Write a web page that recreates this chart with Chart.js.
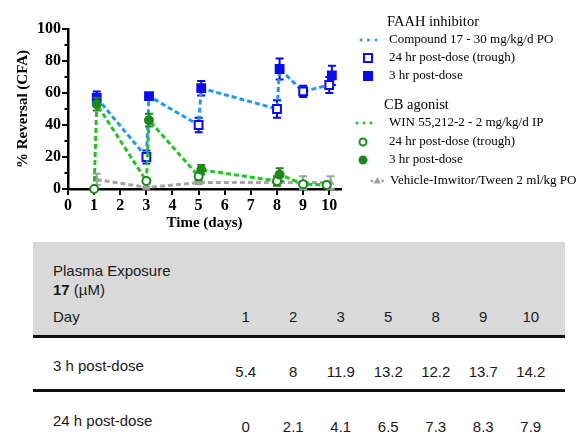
<!DOCTYPE html>
<html>
<head>
<meta charset="utf-8">
<script src="https://cdn.jsdelivr.net/npm/chart.js@4.4.0/dist/chart.umd.min.js"></script>
<style>
  html, body { margin: 0; padding: 0; background: #fff; }
  #wrap { position: relative; width: 582px; height: 433px; overflow: hidden; }
  #chart { position: absolute; left: 0; top: 0; }
  #table { position: absolute; left: 33px; top: 242px; width: 532px; height: 191px;
           font-family: "Liberation Sans", Arial, sans-serif; font-size: 15px; color: #1a1a1a; }
  #table .band { position: absolute; left: 0; top: 0; width: 532px; height: 93px; background: #d9d9d9; }
  #table .rule { position: absolute; left: 0; width: 532px; height: 3px; background: #111; }
  #table .cell { position: absolute; height: 18px; line-height: 18px; white-space: nowrap; }
</style>
</head>
<body>
<div id="wrap">
  <canvas id="chart" width="582" height="240"></canvas>
  <div id="table"></div>
</div>
<script>
// FAAH inhibitor (compound 17), trough and 3 h points in time order
const faahDays = [1.1, 3, 3.1, 5, 5.1, 8, 8.1, 9, 10, 10.1];
const faahReversal = [57, 20, 58, 40, 63, 50, 75, 61, 65, 71];
const faahSem = [4, 4, 1, 4.5, 4.5, 5.5, 6.5, 3.5, 5, 6];
const faahTrough = [false, true, false, true, false, true, false, true, true, false];

// CB agonist (WIN 55,212-2)
const winDays = [1, 1.1, 3, 3.1, 5, 5.1, 8, 8.1, 9, 9.9];
const winReversal = [0, 53, 5, 43, 8, 12, 5, 9, 3, 2.5];
const winSem = [0.5, 4, 1, 4, 2.5, 3, 3, 4, 1.5, 1];
const winTrough = [true, false, true, false, true, false, true, false, true, true];

// Vehicle
const vehDays = [1.1, 3, 5, 8, 9, 10.05];
const vehReversal = [6, 1, 4, 4, 4, 4];
const vehSem = [3.5, 0.5, 1, 1, 4, 4];

// plasma exposure table
const tableDays = [1, 2, 3, 5, 8, 9, 10];
const exposure3h = [5.4, 8, 11.9, 13.2, 12.2, 13.7, 14.2];
const exposure24h = [0, 2.1, 4.1, 6.5, 7.3, 8.3, 7.9];

const serif = '"Liberation Serif", "Times New Roman", serif';

function toPoints(xs, ys) {
  return xs.map((x, i) => ({ x: x, y: ys[i] }));
}

// error bars under each dataset's markers
const errorBars = {
  id: 'errorBars',
  beforeDatasetDraw(chart, args) {
    const ds = chart.data.datasets[args.index];
    if (!ds.sem) return;
    const ctx = chart.ctx;
    const xs = chart.scales.x, ys = chart.scales.y;
    ctx.save();
    ctx.strokeStyle = ds.barColor;
    ctx.lineWidth = 2;
    ds.data.forEach((p, i) => {
      const px = xs.getPixelForValue(p.x);
      const top = ys.getPixelForValue(p.y + ds.sem[i]);
      const bot = ys.getPixelForValue(Math.max(0, p.y - ds.sem[i]));
      ctx.beginPath();
      ctx.moveTo(px, top); ctx.lineTo(px, bot);
      ctx.moveTo(px - 4, top); ctx.lineTo(px + 4, top);
      ctx.moveTo(px - 4, bot); ctx.lineTo(px + 4, bot);
      ctx.stroke();
    });
    ctx.restore();
  }
};

// short minor ticks on the y axis
const minorTicks = {
  id: 'minorTicks',
  afterDraw(chart) {
    const ctx = chart.ctx;
    const ys = chart.scales.y;
    const left = chart.chartArea.left;
    ctx.save();
    ctx.strokeStyle = '#000';
    ctx.lineWidth = 2;
    [10, 30, 50, 70, 90].forEach(v => {
      const py = ys.getPixelForValue(v);
      ctx.beginPath();
      ctx.moveTo(left - 3.5, py); ctx.lineTo(left, py);
      ctx.stroke();
    });
    ctx.restore();
  }
};

// grouped legend on the right
const groupLegend = {
  id: 'groupLegend',
  afterDraw(chart) {
    const ctx = chart.ctx;
    ctx.save();
    ctx.textBaseline = 'middle';
    ctx.fillStyle = '#000';

    function dots(x0, y, color, n, gap) {
      ctx.fillStyle = color;
      for (let i = 0; i < n; i++) ctx.fillRect(x0 + i * gap - 1.3, y - 1.3, 2.6, 2.6);
      ctx.fillStyle = '#000';
    }
    function square(x, y, filled) {
      ctx.fillStyle = filled ? '#0a0af5' : '#fff';
      ctx.fillRect(x - 4, y - 4, 8, 8);
      ctx.strokeStyle = '#0a0af5';
      ctx.lineWidth = 2;
      ctx.strokeRect(x - 4, y - 4, 8, 8);
      ctx.fillStyle = '#000';
    }
    function circle(x, y, filled) {
      ctx.beginPath();
      ctx.arc(x, y, 3.5, 0, Math.PI * 2);
      ctx.fillStyle = filled ? '#1b8a1b' : '#fff';
      ctx.fill();
      ctx.strokeStyle = '#1b8a1b';
      ctx.lineWidth = 2;
      ctx.stroke();
      ctx.fillStyle = '#000';
    }

    ctx.font = '14.5px ' + serif;
    ctx.fillText('FAAH inhibitor', 387, 22);
    ctx.fillText('CB agonist', 384, 105);

    ctx.font = '13px ' + serif;
    dots(361, 40, '#1e9bf0', 3, 7.5);
    ctx.fillText('Compound 17 - 30 mg/kg/d PO', 389, 40);
    square(368, 58, false);
    ctx.fillText('24 hr post-dose (trough)', 389, 58);
    square(368, 76, true);
    ctx.fillText('3 hr post-dose', 389, 76);

    dots(357, 123, '#22c422', 3, 7);
    ctx.fillText('WIN 55,212-2 - 2 mg/kg/d IP', 389, 123);
    circle(363, 142, false);
    ctx.fillText('24 hr post-dose (trough)', 389, 142);
    circle(363, 160, true);
    ctx.fillText('3 hr post-dose', 389, 160);

    dots(372, 181, '#a6a6a6', 1, 0);
    dots(382.5, 181, '#a6a6a6', 1, 0);
    ctx.fillStyle = '#a0a0a0';
    ctx.beginPath();
    ctx.moveTo(377.3, 177); ctx.lineTo(381, 183.5); ctx.lineTo(373.6, 183.5);
    ctx.closePath(); ctx.fill();
    ctx.fillStyle = '#000';
    ctx.fillText('Vehicle-Imwitor/Tween 2 ml/kg PO', 390, 181);
    ctx.restore();
  }
};

const faahBlue = '#0a0af5';
const winGreen = '#1b8a1b';

const data = {
  datasets: [
    {
      label: 'Compound 17 - 30 mg/kg/d PO',
      data: toPoints(faahDays, faahReversal),
      sem: faahSem,
      barColor: faahBlue,
      borderColor: '#1e9bf0',
      borderWidth: 3,
      borderDash: [5, 3],
      pointStyle: 'rect',
      pointRadius: 5.5,
      pointBorderWidth: 2,
      pointBorderColor: faahBlue,
      pointBackgroundColor: faahTrough.map(t => t ? '#fff' : faahBlue),
      order: 1
    },
    {
      label: 'WIN 55,212-2 - 2 mg/kg/d IP',
      data: toPoints(winDays, winReversal),
      sem: winSem,
      barColor: winGreen,
      borderColor: '#22c422',
      borderWidth: 3,
      borderDash: [5, 3],
      pointStyle: 'circle',
      pointRadius: 4,
      pointBorderWidth: 2,
      pointBorderColor: winGreen,
      pointBackgroundColor: winTrough.map(t => t ? '#fff' : winGreen),
      order: 0
    },
    {
      label: 'Vehicle-Imwitor/Tween 2 ml/kg PO',
      data: toPoints(vehDays, vehReversal),
      sem: vehSem,
      barColor: '#a0a0a0',
      borderColor: '#a6a6a6',
      borderWidth: 3,
      borderDash: [5, 3],
      pointStyle: 'triangle',
      pointRadius: 4.5,
      pointBorderWidth: 0,
      pointBackgroundColor: '#a0a0a0',
      order: 2
    }
  ]
};

const tickFont = { family: serif, size: 16, weight: 'bold' };
const titleFont = { family: serif, size: 15, weight: 'bold' };

new Chart(document.getElementById('chart'), {
  type: 'line',
  data: data,
  plugins: [errorBars, minorTicks, groupLegend],
  options: {
    responsive: false,
    animation: false,
    clip: false,
    layout: { padding: { left: 0, top: 29, right: 241, bottom: 0 } },
    plugins: { legend: { display: false }, tooltip: { enabled: false } },
    elements: { line: { tension: 0, fill: false } },
    scales: {
      x: {
        type: 'linear',
        min: 0,
        max: 10.45,
        ticks: { stepSize: 1, includeBounds: false, color: '#000', font: tickFont, padding: 1, maxRotation: 0, autoSkip: false },
        grid: { drawOnChartArea: false, drawTicks: true, tickLength: 6, color: '#000', lineWidth: 2 },
        border: { display: true, color: '#000', width: 2.5 },
        title: { display: true, text: 'Time (days)', color: '#000', font: titleFont, padding: { top: 0, bottom: 8 } },
        afterFit(scale) { scale.height = 51; }
      },
      y: {
        min: 0,
        max: 100,
        ticks: { stepSize: 20, color: '#000', font: tickFont, padding: 1 },
        grid: { drawOnChartArea: false, drawTicks: true, tickLength: 6, color: '#000', lineWidth: 2 },
        border: { display: true, color: '#000', width: 2.5 },
        title: { display: true, text: '% Reversal (CFA)', color: '#000', font: titleFont, padding: { top: 14, bottom: 0 } },
        afterFit(scale) { scale.width = 68; }
      }
    }
  }
});

// plasma exposure table
const table = document.getElementById('table');
function addDiv(cls, style, html) {
  const d = document.createElement('div');
  d.className = cls;
  Object.assign(d.style, style);
  if (html !== undefined) d.innerHTML = html;
  table.appendChild(d);
  return d;
}
function cell(html, x, yc, center) {
  const style = { top: (yc - 9) + 'px' };
  if (center) { style.left = (x - 30) + 'px'; style.width = '60px'; style.textAlign = 'center'; }
  else style.left = x + 'px';
  addDiv('cell', style, html);
}
addDiv('band', {});
addDiv('rule', { top: '93px' });
addDiv('rule', { top: '147px' });

cell('Plasma Exposure', 20, 29);
cell('<b>17</b> (\u00b5M)', 20, 48);
cell('Day', 20, 75);
cell('3 h post-dose', 20, 124);
cell('24 h post-dose', 20, 179);

const colStart = 189, colWidth = 47.5;
tableDays.forEach((d, i) => {
  const cx = colStart + colWidth * (i + 0.5);
  cell(String(d), cx, 75, true);
  cell(String(exposure3h[i]), cx, 130, true);
  cell(String(exposure24h[i]), cx, 185, true);
});
</script>
</body>
</html>
